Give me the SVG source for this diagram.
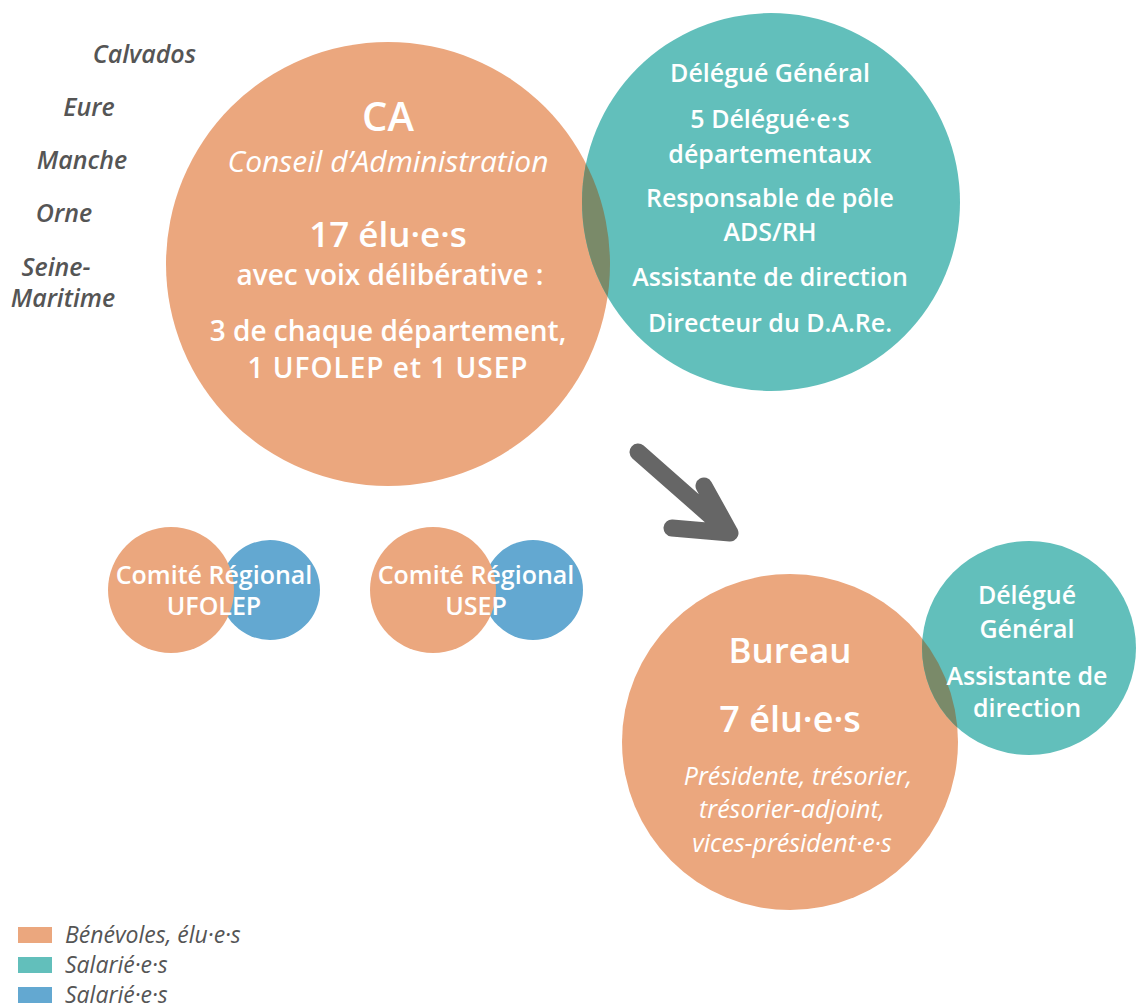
<svg xmlns="http://www.w3.org/2000/svg" width="1138" height="1008" viewBox="0 0 1138 1008">
<style>
.or{fill:#EBA77E}.tl{fill:#62BFBB}.bl{fill:#63A8D1}.ov{fill:#7A8A69}
text{font-family:"Open Sans",Lato,"Liberation Sans",sans-serif;fill:#fff;text-anchor:middle}
.dep{fill:#555;font-style:italic;font-weight:600;font-size:25px}
.leg{fill:#555;font-style:italic;font-size:23px;text-anchor:start}
.w{font-size:25px;font-weight:600}
</style>
<defs>
<clipPath id="caClip"><circle cx="388" cy="264" r="222"/></clipPath>
<clipPath id="buClip"><circle cx="790" cy="742" r="168"/></clipPath>
</defs>
<rect width="1138" height="1008" fill="#fff"/>
<g id="departements">
<text class="dep" x="196" y="63" style="text-anchor:end">Calvados</text>
<text class="dep" x="89" y="116">Eure</text>
<text class="dep" x="82" y="169">Manche</text>
<text class="dep" x="64" y="222">Orne</text>
<text class="dep" x="56" y="276">Seine-</text>
<text class="dep" x="63" y="307">Maritime</text>
</g>
<g id="ca">
<circle class="or" cx="388" cy="264" r="222"/>
<text x="388" y="131" style="font-size:40px;font-weight:600">CA</text>
<text x="388" y="172" style="font-size:30px;font-style:italic">Conseil d’Administration</text>
<text x="388" y="247" style="font-size:35px;font-weight:600">17 élu·e·s</text>
<text x="390" y="285" style="font-size:28px;font-weight:600">avec voix délibérative :</text>
<text x="388" y="341" style="font-size:28px;font-weight:600">3 de chaque département,</text>
<text x="388" y="378" style="font-size:28px;font-weight:600;letter-spacing:1px">1 UFOLEP et 1 USEP</text>
</g>
<g id="salaries-ca">
<circle class="tl" cx="771" cy="202" r="189"/>
<circle class="ov" cx="771" cy="202" r="189" clip-path="url(#caClip)"/>
<text class="w" x="770" y="82">Délégué Général</text>
<text class="w" x="770" y="128">5 Délégué·e·s</text>
<text class="w" x="770" y="163">départementaux</text>
<text class="w" x="770" y="207">Responsable de pôle</text>
<text class="w" x="770" y="241">ADS/RH</text>
<text class="w" x="770" y="286">Assistante de direction</text>
<text class="w" x="770" y="332">Directeur du D.A.Re.</text>
</g>
<g id="comite-ufolep">
<circle class="bl" cx="270" cy="590" r="50"/>
<circle class="or" cx="171" cy="590" r="63"/>
<text class="w" x="214" y="584">Comité Régional</text>
<text class="w" x="214" y="615">UFOLEP</text>
</g>
<g id="comite-usep">
<circle class="bl" cx="533" cy="590" r="50"/>
<circle class="or" cx="433" cy="590" r="63"/>
<text class="w" x="476" y="584">Comité Régional</text>
<text class="w" x="476" y="615">USEP</text>
</g>
<g id="connectors">
<path d="M638,452 L730,533 M704,486 L730,533 L672,528" fill="none" stroke="#666" stroke-width="17" stroke-linecap="round" stroke-linejoin="round"/>
</g>
<g id="bureau">
<circle class="or" cx="790" cy="742" r="168"/>
<text x="790" y="663" style="font-size:35px;font-weight:600">Bureau</text>
<text x="790" y="732" style="font-size:36px;font-weight:600">7 élu·e·s</text>
<text x="798" y="785" style="font-size:25px;font-style:italic">Présidente, trésorier,</text>
<text x="792" y="818" style="font-size:25px;font-style:italic">trésorier-adjoint,</text>
<text x="792" y="852" style="font-size:25px;font-style:italic">vices-président·e·s</text>
</g>
<g id="salaries-bureau">
<circle class="tl" cx="1029" cy="648" r="107"/>
<circle class="ov" cx="1029" cy="648" r="107" clip-path="url(#buClip)"/>
<text class="w" x="1027" y="604">Délégué</text>
<text class="w" x="1027" y="638">Général</text>
<text class="w" x="1027" y="685">Assistante de</text>
<text class="w" x="1027" y="717">direction</text>
</g>
<g id="legende">
<rect class="or" x="18" y="927" width="34" height="16"/>
<rect class="tl" x="18" y="957" width="34" height="16"/>
<rect class="bl" x="18" y="987" width="34" height="16"/>
<text class="leg" x="65" y="943">Bénévoles, élu·e·s</text>
<text class="leg" x="65" y="973">Salarié·e·s</text>
<text class="leg" x="65" y="1003">Salarié·e·s</text>
</g>
</svg>
